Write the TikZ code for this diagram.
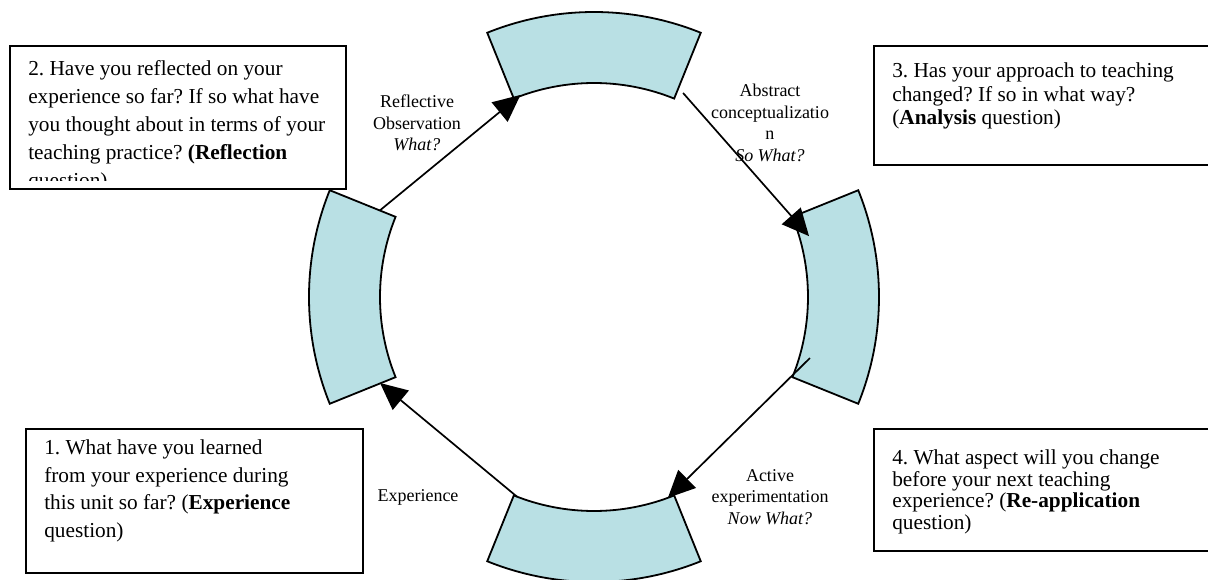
\documentclass[tikz,border=0pt]{standalone}
\usepackage{fontspec}
\setmainfont{Liberation Serif}
\usepackage{tikz}
\usetikzlibrary{positioning, arrows.meta, calc}
\frenchspacing

\definecolor{ringblue}{RGB}{185,224,228}

\tikzset{
    ringpart/.style={draw=black, fill=ringblue, line width=1.8pt},
    cyclearrow/.style={draw=black, line width=1.7pt, -{Triangle[length=27pt, width=25pt]}},
    qbox/.style={draw=black, line width=1.8pt, rectangle, inner sep=0pt},
    qtext/.style={inner sep=0pt, align=left, anchor=north west},
    steplabel/.style={inner sep=0pt, align=center, font=\fontsize{18}{21.5}\selectfont}
}

\def\tikring{%
    \def\rin{214}
    \def\rout{285}
    \def\half{22}

    % draw the four parts of the ring
    \foreach \a in {0,90,180,270}
    {
        \draw[ringpart] (\a-\half:\rin) arc[start angle=\a-\half, end angle=\a+\half, radius=\rin]
            -- (\a+\half:\rout) arc[start angle=\a+\half, end angle=\a-\half, radius=\rout] -- cycle;
    }
}

\begin{document}
\begin{tikzpicture}[x=1pt, y=1pt]
    \useasboundingbox (-594,-282) rectangle (614,297);
    \tikring

    % ends of the arrows
    \coordinate (left-out) at (158:231);
    \coordinate (top-in) at (110:215);
    \coordinate (top-out) at (66.4:222.6);
    \coordinate (right-in) at (15.8:223.5);
    \coordinate (right-out) at (-15.8:224.4);
    \coordinate (bottom-in) at (290.2:214);
    \coordinate (bottom-out) at (248.9:214);
    \coordinate (left-in) at (201.9:230.6);

    % draw the cycle arrows
    \foreach \from/\to in {left-out/top-in, top-out/right-in, right-out/bottom-in, bottom-out/left-in}
    {
        \draw[cyclearrow] (\from) -- (\to);
    }

    % labels of the arrows
    \node[steplabel] (reflect) at (-177,174) {Reflective\\Observation\\\textit{What?}};
    \node[steplabel] (abstract) at (176,174) {Abstract\\conceptualizatio\\n\\\textit{So What?}};
    \node[steplabel] (active) at (176,-200) {Active\\experimentation\\\textit{Now What?}};
    \node[steplabel] (experience) at (-176,-200) {Experience};

    % question boxes
    \node[qbox, minimum width=336pt, minimum height=143pt] (box2) at (-416,179.5) {};
    \node[qbox, minimum width=341pt, minimum height=119pt] (box3) at (450.5,191.5) {};
    \node[qbox, minimum width=337pt, minimum height=144pt] (box1) at (-399.5,-204) {};
    \node[qbox, minimum width=341pt, minimum height=122pt] (box4) at (450.5,-193) {};

    \begin{scope}
        \clip (box2.north west) rectangle ([yshift=9pt]box2.south east);
        \node[qtext, font=\fontsize{21.3}{28}\selectfont, below right=15.5pt and 19pt of box2.north west] (q2)
            {2. Have you reflected on your\\experience so far? If so what have\\you thought about in terms of your\\teaching practice? \textbf{(Reflection}\\question)};
    \end{scope}
    \node[qtext, font=\fontsize{21.3}{23.5}\selectfont, below right=17.5pt and 19pt of box3.north west] (q3)
        {3. Has your approach to teaching\\changed? If so in what way?\\(\textbf{Analysis} question)};
    \node[qtext, font=\fontsize{21.3}{27.5}\selectfont, below right=11.5pt and 19pt of box1.north west] (q1)
        {1. What have you learned\\from your experience during\\this unit so far? (\textbf{Experience}\\question)};
    \node[qtext, font=\fontsize{21.3}{21.7}\selectfont, below right=21.5pt and 19pt of box4.north west] (q4)
        {4. What aspect will you change\\before your next teaching\\experience? (\textbf{Re-application}\\question)};
\end{tikzpicture}
\end{document}
